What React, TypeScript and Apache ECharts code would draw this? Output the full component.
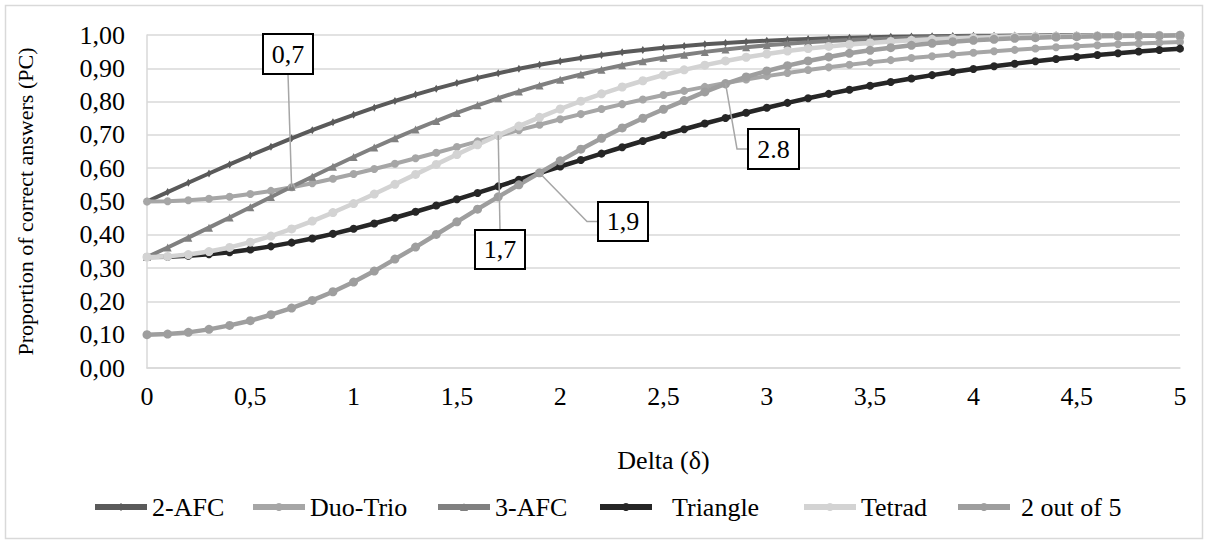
import { useEffect, useRef } from "react";
import * as echarts from "echarts";

const delta = [
  0, 0.1, 0.2, 0.3, 0.4, 0.5, 0.6, 0.7, 0.8, 0.9,
  1, 1.1, 1.2, 1.3, 1.4, 1.5, 1.6, 1.7, 1.8, 1.9,
  2, 2.1, 2.2, 2.3, 2.4, 2.5, 2.6, 2.7, 2.8, 2.9,
  3, 3.1, 3.2, 3.3, 3.4, 3.5, 3.6, 3.7, 3.8, 3.9,
  4, 4.1, 4.2, 4.3, 4.4, 4.5, 4.6, 4.7, 4.8, 4.9, 5,
];

const twoAFC = [
  0.5, 0.5282, 0.5562, 0.584, 0.6114, 0.6382, 0.6643, 0.6897, 0.7142, 0.7377,
  0.7602, 0.7817, 0.8019, 0.821, 0.8389, 0.8556, 0.8711, 0.8853, 0.8985, 0.9104,
  0.9214, 0.9312, 0.9401, 0.9481, 0.9552, 0.9615, 0.967, 0.9719, 0.9761, 0.9798,
  0.9831, 0.9858, 0.9882, 0.9902, 0.9919, 0.9933, 0.9945, 0.9956, 0.9964, 0.9971,
  0.9977, 0.9981, 0.9985, 0.9988, 0.9991, 0.9993, 0.9994, 0.9996, 0.9997, 0.9997, 0.9998,
];

const duoTrio = [
  0.5, 0.5009, 0.5037, 0.5082, 0.5145, 0.5224, 0.5318, 0.5427, 0.5548, 0.5681,
  0.5825, 0.5976, 0.6135, 0.6298, 0.6465, 0.6635, 0.6805, 0.6974, 0.7142, 0.7306,
  0.7469, 0.7625, 0.7776, 0.7923, 0.8063, 0.8196, 0.8322, 0.8443, 0.8556, 0.8664,
  0.8765, 0.8859, 0.8948, 0.9029, 0.9106, 0.9178, 0.9245, 0.9307, 0.9364, 0.9417,
  0.9467, 0.9512, 0.9554, 0.9593, 0.963, 0.9662, 0.9692, 0.9721, 0.9747, 0.977, 0.9792,
];

const threeAFC = [
  0.3333, 0.362, 0.3914, 0.4215, 0.452, 0.4827, 0.5134, 0.5441, 0.5745, 0.6044,
  0.6337, 0.6623, 0.6898, 0.7163, 0.7417, 0.7659, 0.7887, 0.81, 0.8301, 0.8485,
  0.8659, 0.8815, 0.8959, 0.9091, 0.9209, 0.9315, 0.9408, 0.9493, 0.9565, 0.963,
  0.9689, 0.9737, 0.978, 0.9817, 0.9848, 0.9873, 0.9896, 0.9916, 0.9931, 0.9944,
  0.9956, 0.9963, 0.9971, 0.9977, 0.9982, 0.9986, 0.9989, 0.9991, 0.9993, 0.9995, 0.9996,
];

const triangle = [
  0.3333, 0.3342, 0.337, 0.3414, 0.3477, 0.3557, 0.3653, 0.3764, 0.389, 0.4029,
  0.418, 0.4339, 0.4511, 0.4692, 0.4878, 0.5066, 0.5257, 0.5455, 0.5655, 0.5855,
  0.6051, 0.6245, 0.6438, 0.6629, 0.6816, 0.6996, 0.7171, 0.7341, 0.7506, 0.7665,
  0.7817, 0.7962, 0.81, 0.8232, 0.8358, 0.8477, 0.859, 0.8696, 0.8795, 0.8889,
  0.8978, 0.9061, 0.9138, 0.921, 0.9277, 0.934, 0.9399, 0.9453, 0.9503, 0.9548, 0.959,
];

const tetrad = [
  0.3333, 0.3352, 0.3407, 0.3497, 0.3621, 0.3778, 0.3963, 0.4176, 0.4412, 0.4668,
  0.4939, 0.5223, 0.5517, 0.5814, 0.6114, 0.6411, 0.6704, 0.6989, 0.7264, 0.7528,
  0.7778, 0.8014, 0.8234, 0.8438, 0.8626, 0.8798, 0.8953, 0.9094, 0.922, 0.9332,
  0.943, 0.9517, 0.9593, 0.9658, 0.9715, 0.9763, 0.9805, 0.984, 0.9869, 0.9894,
  0.9914, 0.9931, 0.9945, 0.9956, 0.9965, 0.9973, 0.9979, 0.9983, 0.9988, 0.999, 0.9993,
];

const twoOutOfFive = [
  0.1, 0.102, 0.107, 0.116, 0.128, 0.142, 0.16, 0.18, 0.203, 0.229,
  0.258, 0.291, 0.327, 0.363, 0.401, 0.439, 0.477, 0.514, 0.55, 0.586,
  0.622, 0.657, 0.69, 0.721, 0.75, 0.777, 0.803, 0.829, 0.853, 0.874,
  0.892, 0.908, 0.922, 0.934, 0.945, 0.954, 0.962, 0.969, 0.975, 0.98,
  0.984, 0.987, 0.99, 0.992, 0.994, 0.995, 0.996, 0.997, 0.998, 0.998, 0.999,
];

const seriesNames = ["2-AFC", "Duo-Trio", "3-AFC", "Triangle", "Tetrad", "2 out of 5"];
const seriesValues = [twoAFC, duoTrio, threeAFC, triangle, tetrad, twoOutOfFive];
const seriesColors = ["#5a5a5a", "#a6a6a6", "#808080", "#262626", "#d3d3d3", "#9e9e9e"];
const seriesSymbols = ["diamond", "circle", "triangle", "circle", "circle", "circle"];
const seriesSymbolSizes: any[] = [[5, 8], 8, 8, 8, 9, 9];
const legendLefts = [92, 250, 435, 597, 801, 955];
const legendPadLeft = [0, 0, 0, 15, 0, 6];

const xAxisTitle = "Delta (δ)";
const yAxisTitle = "Proportion of correct answers (PC)";

// annotation labels: label, delta, series index to anchor, box, leader elbow
const annotations = [
  { label: "0,7", delta: 0.7, series: 1, box: [263, 34, 50, 40], path: [[288, 74]] },
  { label: "1,7", delta: 1.7, series: 4, box: [475, 230, 50, 39], path: [[500, 230]] },
  { label: "1,9", delta: 1.9, series: 3, box: [598, 202, 50, 39], path: [[598, 221.5], [587, 221.5]] },
  { label: "2.8", delta: 2.8, series: 1, box: [748, 129, 51, 40], path: [[748, 149], [737, 149]] },
];

const FONT = "Liberation Serif";
const FS = 26;

export default function App() {
  const ref = useRef<HTMLDivElement>(null);
  useEffect(() => {
    const chart = echarts.init(ref.current!, null, { renderer: "svg" });
    const series = seriesNames.map((name, k) => ({
      name,
      type: "line",
      data: delta.map((d, i) => [d, seriesValues[k][i]]),
      symbol: seriesSymbols[k],
      symbolSize: seriesSymbolSizes[k],
      showSymbol: true,
      lineStyle: { width: k === 3 || k >= 4 ? 4.5 : 4, color: seriesColors[k] },
      itemStyle: { color: seriesColors[k] },
      emphasis: { disabled: true },
    }));
    const legends = seriesNames.map((name, k) => ({
      data: [name],
      left: legendLefts[k],
      top: 494,
      padding: 0,
      itemWidth: 52,
      itemHeight: 10,
      itemGap: 5,
      lineStyle: { width: 6 },
      formatter: (n: string) => `{t|${n}}`,
      textStyle: {
        rich: {
          t: {
            fontFamily: FONT,
            fontSize: FS,
            color: "#000",
            padding: [0, 0, 0, legendPadLeft[k]],
          },
        },
      },
    }));
    chart.setOption({
      animation: false,
      backgroundColor: "#fff",
      textStyle: { fontFamily: FONT },
      grid: { left: 147, right: 28, top: 35, bottom: 176 },
      legend: legends,
      xAxis: {
        type: "value",
        min: 0,
        max: 5,
        interval: 0.5,
        name: xAxisTitle,
        nameLocation: "middle",
        nameGap: 79,
        nameTextStyle: { fontFamily: FONT, fontSize: FS, color: "#000" },
        axisLine: { show: true, lineStyle: { color: "#d9d9d9", width: 1.5 } },
        axisTick: { show: false },
        splitLine: { show: false },
        axisLabel: {
          fontFamily: FONT,
          fontSize: FS,
          color: "#000",
          margin: 15,
          formatter: (v: number) => String(v).replace(".", ","),
        },
      },
      yAxis: {
        type: "value",
        min: 0,
        max: 1,
        interval: 0.1,
        name: yAxisTitle,
        nameLocation: "middle",
        nameRotate: 90,
        nameGap: 111,
        nameTextStyle: { fontFamily: FONT, fontSize: 22, color: "#000" },
        axisLine: { show: true, lineStyle: { color: "#d9d9d9", width: 1.5 } },
        axisTick: { show: false },
        splitLine: { show: true, lineStyle: { color: "#d9d9d9", width: 1.5 } },
        axisLabel: {
          fontFamily: FONT,
          fontSize: FS,
          color: "#000",
          margin: 22,
          formatter: (v: number) => v.toFixed(2).replace(".", ","),
        },
      },
      series,
    });

    const graphics: any[] = [
      {
        type: "rect",
        silent: true,
        shape: { x: 5.5, y: 5.5, width: 1197, height: 533 },
        style: { fill: "none", stroke: "#d9d9d9", lineWidth: 1.5 },
      },
    ];
    annotations.forEach((a) => {
      const idx = delta.indexOf(a.delta);
      const p = chart.convertToPixel({ gridIndex: 0 }, [a.delta, seriesValues[a.series][idx]]) as number[];
      const pts = [...a.path, p];
      graphics.push({
        type: "polyline",
        silent: true,
        z: 100,
        shape: { points: pts },
        style: { stroke: "#a6a6a6", lineWidth: 1.5, fill: "none" },
      });
      const [bx, by, bw, bh] = a.box;
      graphics.push({
        type: "rect",
        silent: true,
        z: 101,
        shape: { x: bx, y: by, width: bw, height: bh },
        style: { fill: "#fff", stroke: "#000", lineWidth: 2 },
      });
      graphics.push({
        type: "text",
        silent: true,
        z: 102,
        x: bx + bw / 2,
        y: by + bh / 2,
        style: {
          text: a.label,
          fontFamily: FONT,
          fontSize: FS,
          fill: "#000",
          align: "center",
          verticalAlign: "middle",
        },
      });
    });
    chart.setOption({ graphic: graphics });
    return () => chart.dispose();
  }, []);
  return (
    <div
      ref={ref}
      style={{ position: "absolute", left: 0, top: 0, width: 1208, height: 544 }}
    />
  );
}
